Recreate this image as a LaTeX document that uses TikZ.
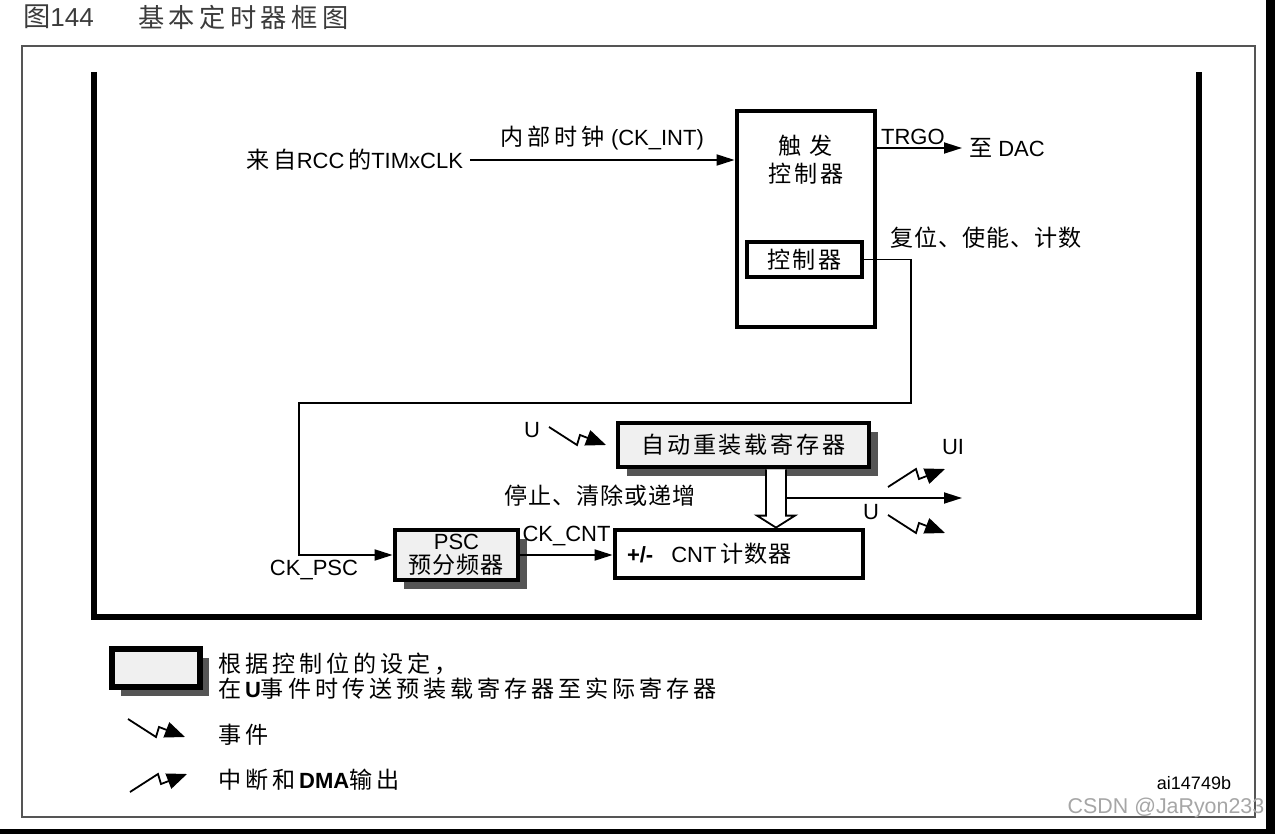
\documentclass[tikz,border=0pt]{standalone}
\usepackage{fontspec}
\setmainfont{Liberation Sans}
\newfontfamily\cjk[Scale=1.05,LetterSpace=12]{Noto Sans CJK SC}
\newfontfamily\cjkn[Scale=1.05,LetterSpace=4]{Noto Sans CJK SC}
\newfontfamily\cjkt[Scale=1.05,LetterSpace=17]{Noto Sans CJK SC}
\usetikzlibrary{calc}
\usetikzlibrary{arrows.meta,shadows}

\definecolor{regfill}{RGB}{240,240,240}
\definecolor{shadegray}{RGB}{85,85,85}
\definecolor{framegray}{RGB}{85,85,85}
\definecolor{titlegray}{RGB}{60,60,60}

% zigzag arrows: event and interrupt/DMA
\newcommand{\evt}[1]{\draw[wire,-{Triangle[length=10pt,width=8pt]}] (#1) -- ++(28,18) -- ++(3,-10) -- ++(26,10);}
\newcommand{\irq}[1]{\draw[wire,-{Triangle[length=10pt,width=8pt]}] (#1) -- ++(28,-18) -- ++(3,10) -- ++(26,-10);}

\begin{document}
\begin{tikzpicture}[x=0.5pt,y=-0.5pt,>={Triangle[length=9pt,width=5.5pt]},line join=miter,
  font=\fontsize{11}{13}\selectfont,
  wire/.style={line width=0.9pt},
  blk/.style={draw,line width=2.4pt,fill=white,inner sep=0pt},
  reg/.style={blk,fill=regfill,drop shadow={shadow xshift=4.5pt,shadow yshift=-4.5pt,fill=shadegray,opacity=1}}]
  \useasboundingbox (0,0) rectangle (1275,834);
  \fill[white] (0,0) rectangle (1275,834);
  \fill[black] (1266,0) rectangle (1275,834);
  \fill[black] (0,829) rectangle (1275,834);

  % frames
  \draw[framegray,line width=1pt] (22,46) rectangle (1255,817);
  \draw[line width=2.6pt] (94,72) -- (94,617) -- (1199,617) -- (1199,72);

  % title
  \node[anchor=west,text=titlegray,font=\fontsize{13}{15}\selectfont] (fignum) at (16,17) {{\cjkn 图}144};
  \node[anchor=west,text=titlegray,font=\fontsize{12.5}{15}\selectfont] (figtitle) at (131,17) {{\cjkt 基本定时器框图}};

  % trigger controller
  \node[blk,minimum width=69pt,minimum height=108pt] (trig) at (806,219) {};
  \node[align=center,font=\fontsize{11}{14}\selectfont] (trigtxt) at (806,160) {{\cjk 触\ 发}\\{\cjk 控制器}};
  \node[blk,line width=2pt,minimum width=57.5pt,minimum height=17.5pt] (ctrl) at (804.5,259.5) {{\cjk 控制器}};

  % clock input and TRGO
  \node[anchor=east] (rcc) at (470,160) {{\cjkt 来自}RCC\,{\cjkt 的}TIMxCLK};
  \draw[wire,->] (rcc.east) -- node[above=1pt] (ckint) {{\cjkt 内部时钟} (CK\_INT)} (rcc -| trig.west);
  \node[anchor=west] (dac) at (962,148) {{\cjk 至} DAC};
  \draw[wire,->] (trig.east |- dac) -- node[above=-2pt,pos=0.42] (trgo) {TRGO} (dac.west);
  \node[anchor=west] (rst) at (883,238) {{\cjkn 复位、使能、计数}};

  % prescaler and counter
  \node[reg,minimum width=61.5pt,minimum height=25pt,align=center,font=\fontsize{11}{12}\selectfont] (psc) at (456.5,555) {PSC\\{\cjkn 预分频器}};
  \node[blk,minimum width=124pt,minimum height=24pt,text width=112pt,align=left,inner xsep=6pt] (cnt) at (739,554) {\textbf{+/-}\hspace{9pt}CNT\,{\cjkn 计数器}};
  \coordinate (bendA) at (911,403);
  \coordinate (bendB) at (299,403);
  \draw[wire,->] (ctrl.east) -| (bendA) -- (bendB) |- (psc.west);
  \node (ckpsc) at (314,570) {CK\_PSC};
  \draw[wire,->] (psc.east) -- node[above=1pt] (ckcnt) {CK\_CNT} (psc.east -| cnt.west);

  % auto-reload register
  \node[reg,minimum width=125.5pt,minimum height=22pt] (arr) at (743.5,445) {{\cjk 自动重装载寄存器}};
  \node (stp) at (600,496) {{\cjkn 停止、清除或递增}};
  \path (arr.south) ++(32.5,0) coordinate (ht);
  \path (cnt.north) ++(37,0) coordinate (hb);
  \draw[wire,fill=white] ($(ht)+(-10,0)$) -- ($(hb)+(-10,-12)$) -- ($(hb)+(-19,-12)$) -- (hb)
    -- ($(hb)+(19,-12)$) -- ($(hb)+(10,-12)$) -- ($(ht)+(10,0)$);
  \coordinate (hr) at ($(ht)+(10,0)$);
  \coordinate (uout) at (962,498);
  \draw[wire,->] (hr |- uout) -- (uout);

  % update events
  \coordinate (u0) at (549,427);
  \evt{u0}
  \node (u0lbl) at (532,430) {U};
  \coordinate (ui0) at (888,487);
  \irq{ui0}
  \node (uilbl) at (953,447) {UI};
  \coordinate (u1) at (888,515);
  \evt{u1}
  \node (u1lbl) at (871,512) {U};

  % legend
  \node[reg,line width=2.8pt,minimum width=44pt,minimum height=19pt] (lgbox) at (156,668) {};
  \node[anchor=west] (lg1) at (211,664) {{\cjkt 根据控制位的设定，}};
  \node[anchor=west] (lg2) at (211,689) {{\cjkt 在}\textbf{U}{\cjkt 事件时传送预装载寄存器至实际寄存器}};
  \coordinate (lgevt) at (128,719);
  \evt{lgevt}
  \node[anchor=west] (lg3) at (211,735) {{\cjkt 事件}};
  \coordinate (lgirq) at (130,792);
  \irq{lgirq}
  \node[anchor=west] (lg4) at (211,780) {{\cjkt 中断和}\textbf{DMA}{\cjkt 输出}};
  \node[font=\fontsize{9}{10}\selectfont] (tag) at (1194,783) {ai14749b};
  \node[text=black!35,font=\fontsize{10.7}{12}\selectfont] (wm) at (1166,808) {CSDN @JaRyon233};
\end{tikzpicture}
\end{document}
